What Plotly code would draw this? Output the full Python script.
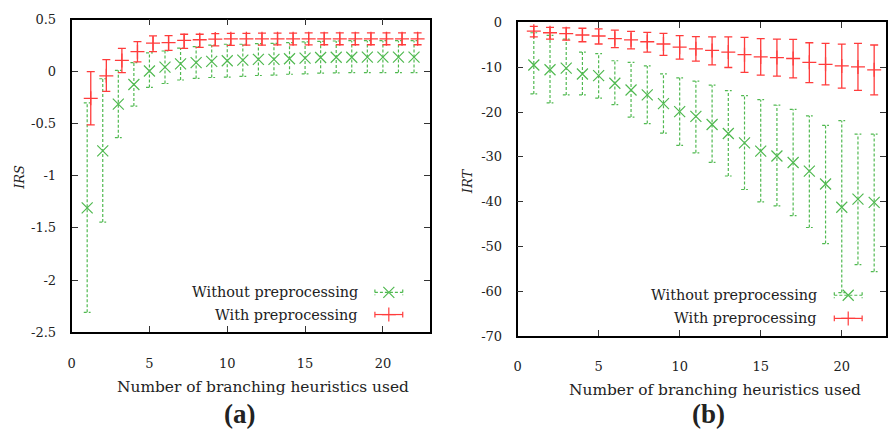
import plotly.graph_objects as go

W, H = 888, 436

# ---------------- data ----------------
n_heur = list(range(1, 23))

# (a) IRS
irs_with_mean = [-0.256, -0.04, 0.108, 0.192, 0.273, 0.278, 0.300, 0.306, 0.313, 0.315, 0.315,
                 0.315, 0.315, 0.315, 0.315, 0.315, 0.315, 0.315, 0.315, 0.315, 0.315, 0.315]
irs_with_hi = [0.0, 0.115, 0.223, 0.288, 0.343, 0.345, 0.359, 0.359, 0.365, 0.368, 0.368,
               0.37, 0.37, 0.37, 0.372, 0.372, 0.372, 0.372, 0.372, 0.372, 0.372, 0.372]
irs_with_lo = [-0.51, -0.19, -0.01, 0.093, 0.192, 0.204, 0.223, 0.232, 0.248, 0.252, 0.254,
               0.254, 0.256, 0.256, 0.256, 0.258, 0.258, 0.258, 0.258, 0.258, 0.258, 0.258]

irs_without_mean = [-1.308, -0.76, -0.312, -0.123, 0.006, 0.044, 0.075, 0.087, 0.099, 0.105, 0.111,
                    0.118, 0.118, 0.124, 0.13, 0.136, 0.138, 0.138, 0.14, 0.14, 0.14, 0.14]
irs_without_hi = [-0.30, -0.068, 0.013, 0.087, 0.18, 0.198, 0.226, 0.241, 0.254, 0.263, 0.263,
                  0.269, 0.272, 0.278, 0.285, 0.291, 0.294, 0.297, 0.297, 0.297, 0.297, 0.297]
irs_without_lo = [-2.31, -1.444, -0.634, -0.33, -0.151, -0.114, -0.08, -0.065, -0.056, -0.053, -0.046,
                  -0.037, -0.034, -0.025, -0.022, -0.015, -0.012, -0.009, -0.009, -0.009, -0.009, -0.009]

# (b) IRT
irt_with_mean = [-1.94, -2.3, -2.5, -2.8, -3.02, -3.59, -3.88, -4.31, -4.81, -5.53, -5.89,
                 -6.25, -6.61, -7.19, -7.69, -7.84, -8.05, -8.91, -9.35, -9.7, -9.92, -10.57]
irt_with_hi = [-0.86, -1.08, -1.22, -1.29, -1.44, -1.73, -2.0, -2.23, -2.44, -2.95, -3.16,
               -3.23, -3.23, -3.31, -3.59, -3.74, -3.8, -4.53, -4.67, -4.82, -4.67, -5.04]
irt_with_lo = [-3.23, -3.74, -3.95, -4.31, -4.81, -5.6, -5.89, -6.61, -7.33, -8.19, -8.62,
               -9.49, -10.06, -11.14, -11.78, -12.0, -12.36, -13.44, -13.94, -14.66, -15.17, -16.17]

irt_without_mean = [-9.49, -10.57, -10.2, -11.5, -11.86, -13.58, -15.09, -16.17, -18.11, -19.9, -20.98,
                    -22.78, -24.79, -26.88, -28.74, -29.82, -31.26, -33.2, -36.07, -41.25, -39.46, -40.18]
irt_without_hi = [-2.3, -2.88, -3.74, -6.61, -6.97, -8.55, -8.91, -9.7, -11.5, -12.36, -13.08,
                  -14.0, -15.24, -16.32, -17.25, -18.48, -19.4, -20.85, -23.0, -21.93, -24.94, -24.94]
irt_without_lo = [-15.96, -17.97, -16.17, -16.17, -16.9, -18.33, -21.13, -22.57, -24.72, -27.45, -29.1,
                  -31.26, -34.28, -37.3, -40.04, -40.97, -43.12, -45.78, -49.37, -60.3, -54.05, -55.63]

x_ticks = [0, 5, 10, 15, 20]
irs_ticks = [0.5, 0, -0.5, -1, -1.5, -2, -2.5]
irs_tick_text = ["0.5", "0", "-0.5", "-1", "-1.5", "-2", "-2.5"]
irt_ticks = [0, -10, -20, -30, -40, -50, -60, -70]
irt_tick_text = ["0", "-10", "-20", "-30", "-40", "-50", "-60", "-70"]

label_without = "Without preprocessing"
label_with = "With preprocessing"
x_title = "Number of branching heuristics used"

# ---------------- style ----------------
GREEN = "rgb(80,185,80)"
RED = "rgb(255,60,60)"
FONT = "DejaVu Serif"
red_shift_a = 0.23  # slight horizontal offset of red series in panel (a)

fig = go.Figure()


def dashed_errorbars(xs, lo, hi, cap, xa, ya):
    vx, vy, cx, cy = [], [], [], []
    for x, l, h in zip(xs, lo, hi):
        vx += [x, x, None]
        vy += [l, h, None]
        cx += [x - cap, x + cap, None, x - cap, x + cap, None]
        cy += [l, l, None, h, h, None]
    fig.add_trace(go.Scatter(x=vx + cx, y=vy + cy, mode="lines", xaxis=xa, yaxis=ya,
                             line=dict(color=GREEN, width=1.2, dash="3px,2px"),
                             hoverinfo="skip", showlegend=False))


def panel(xa, ya, g_mean, g_lo, g_hi, r_mean, r_lo, r_hi, rshift, cap):
    dashed_errorbars(n_heur, g_lo, g_hi, cap, xa, ya)
    fig.add_trace(go.Scatter(x=n_heur, y=g_mean, mode="markers", xaxis=xa, yaxis=ya,
                             marker=dict(symbol="x-thin", size=11, line=dict(color=GREEN, width=1.2)),
                             showlegend=False))
    rx = [x + rshift for x in n_heur]
    fig.add_trace(go.Scatter(
        x=rx, y=r_mean, mode="markers", xaxis=xa, yaxis=ya,
        marker=dict(symbol="cross-thin", size=10, line=dict(color=RED, width=1.3)),
        error_y=dict(type="data", symmetric=False,
                     array=[h - m for h, m in zip(r_hi, r_mean)],
                     arrayminus=[m - l for l, m in zip(r_lo, r_mean)],
                     color=RED, thickness=1.3, width=4),
        showlegend=False))


panel("x", "y", irs_without_mean, irs_without_lo, irs_without_hi,
      irs_with_mean, irs_with_lo, irs_with_hi, red_shift_a, 0.22)
panel("x2", "y2", irt_without_mean, irt_without_lo, irt_without_hi,
      irt_with_mean, irt_with_lo, irt_with_hi, 0.0, 0.21)


# ---------------- legends (gnuplot-like, drawn on a pixel overlay axis) ----------------
def legend_entry(x0, x1, y, color, dash, symbol, msize):
    xm = (x0 + x1) / 2
    fig.add_trace(go.Scatter(x=[x0, x1, None, x0, x0, None, x1, x1], y=[y, y, None, y - 3, y + 3, None, y - 3, y + 3],
                             mode="lines", xaxis="x3", yaxis="y3",
                             line=dict(color=color, width=1.2, dash=dash),
                             hoverinfo="skip", showlegend=False))
    fig.add_trace(go.Scatter(x=[xm], y=[y], mode="markers", xaxis="x3", yaxis="y3",
                             marker=dict(symbol=symbol, size=msize, line=dict(color=color, width=1.2)),
                             hoverinfo="skip", showlegend=False))


legend_entry(373, 401, 295.5, GREEN, "3px,2px", "x-thin", 11)
legend_entry(373, 401, 318.5, RED, "solid", "cross-thin", 10)
legend_entry(835, 863, 298.5, GREEN, "3px,2px", "x-thin", 11)
legend_entry(835, 863, 322.5, RED, "solid", "cross-thin", 10)

ann = []


def txt(x, y, s, size=13, anchor="center", angle=0, family=FONT):
    ann.append(dict(x=x / W, y=1 - y / H, xref="paper", yref="paper", text=s, showarrow=False,
                    xanchor=anchor, yanchor="middle", textangle=angle,
                    font=dict(family=family, size=size, color="#222")))


txt(358, 295.5, label_without, size=14.4, anchor="right")
txt(358, 318.5, label_with, size=14.4, anchor="right")
txt(820, 298.5, label_without, size=14.4, anchor="right")
txt(820, 322.5, label_with, size=14.4, anchor="right")

txt(260, 394, x_title, size=15.4)
txt(715, 397, x_title, size=15.4)
txt(16, 176, "<i>IRS</i>", size=13, angle=-90)
txt(466, 180, "<i>IRT</i>", size=13, angle=-90)
txt(237, 421, "<b>(a)</b>", size=27, family="Liberation Serif")
txt(708, 422, "<b>(b)</b>", size=27, family="Liberation Serif")

axis_common = dict(showline=True, linecolor="black", linewidth=1.8, mirror="allticks",
                   ticks="inside", ticklen=6, tickcolor="#333", tickwidth=1.2,
                   showgrid=False, zeroline=False,
                   tickfont=dict(family=FONT, size=13, color="#222"))

fig.update_layout(
    width=W, height=H, margin=dict(l=0, r=0, t=0, b=0),
    paper_bgcolor="white", plot_bgcolor="rgba(0,0,0,0)", showlegend=False,
    annotations=ann,
    xaxis=dict(domain=[68 / W, 428 / W], range=[0, 23], tickvals=x_ticks,
               anchor="y", ticklabelstandoff=18, **axis_common),
    yaxis=dict(domain=[1 - 336.7 / H, 1 - 13 / H], range=[-2.5, 0.5], tickvals=irs_ticks,
               ticktext=irs_tick_text, anchor="x", ticklabelstandoff=11, **axis_common),
    xaxis2=dict(domain=[516.5 / W, 887 / W], range=[0, 22.73], tickvals=x_ticks,
                anchor="y2", ticklabelstandoff=18, **axis_common),
    yaxis2=dict(domain=[1 - 340.7 / H, 1 - 16 / H], range=[-70, 0], tickvals=irt_ticks,
                ticktext=irt_tick_text, anchor="x2", ticklabelstandoff=11, **axis_common),
    xaxis3=dict(domain=[0, 1], range=[0, W], visible=False, anchor="y3", fixedrange=True),
    yaxis3=dict(domain=[0, 1], range=[H, 0], visible=False, anchor="x3", fixedrange=True),
)

fig.write_html("out.html")
